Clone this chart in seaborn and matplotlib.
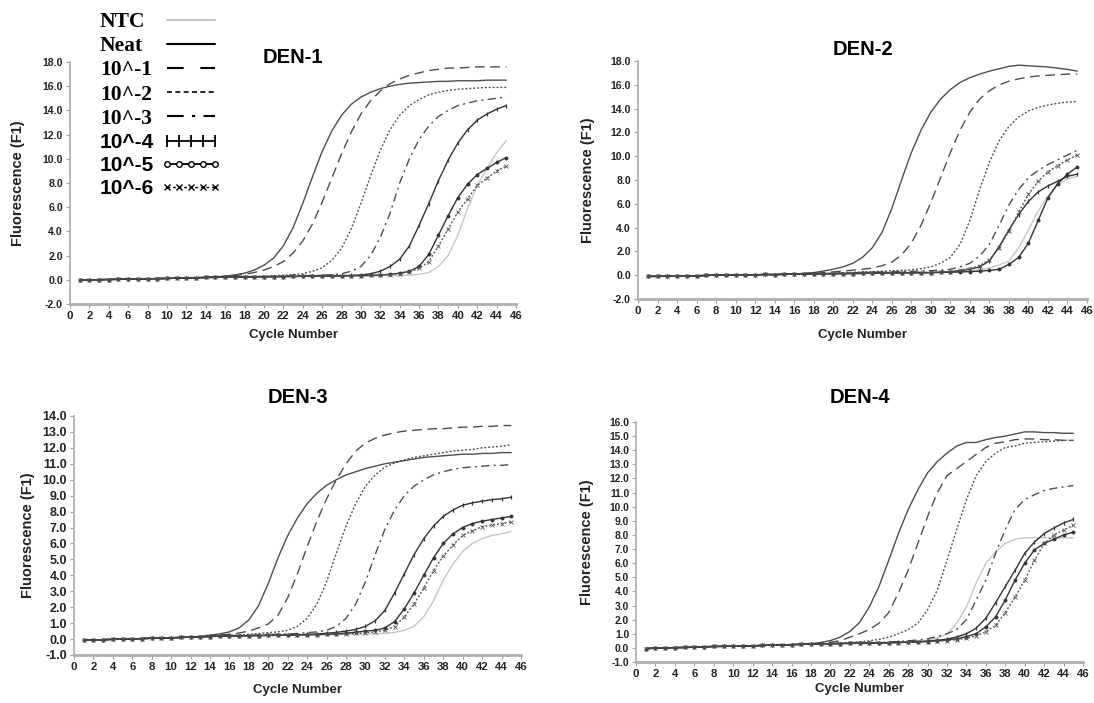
import numpy as np
import pandas as pd
import matplotlib
matplotlib.use("Agg")
import matplotlib.pyplot as plt
from matplotlib.lines import Line2D
from matplotlib.ticker import FormatStrFormatter
import seaborn as sns

# ---------------- data ----------------
cycles = list(range(1, 46))
dilutions = ["NTC", "Neat", "10^-1", "10^-2", "10^-3", "10^-4", "10^-5", "10^-6"]
panel_titles = ["DEN-1", "DEN-2", "DEN-3", "DEN-4"]

den1_ntc = [0.0,0.0,0.01,0.02,0.03,0.05,0.06,0.08,0.09,0.1, 0.11,0.13,0.15,0.17,0.19,0.2,0.21,0.22,0.23,0.24,
            0.25,0.25,0.26,0.27,0.27,0.28,0.28,0.29,0.3,0.3, 0.31,0.32,0.33,0.35,0.38,
            0.45,0.6,1.1,2.0,3.7,5.9,7.8,9.2,10.5,11.5]
den1_neat = [0.0,0.0,0.01,0.03,0.04,0.05,0.07,0.08,0.1,0.11, 0.13,0.15,0.17,0.2,0.24,
             0.3,0.4,0.55,0.8,1.2, 1.8,2.8,4.3,6.3,8.5, 10.6,12.3,13.6,14.5,15.1,
             15.5,15.8,16.0,16.15,16.25, 16.3,16.35,16.4,16.4,16.45, 16.45,16.45,16.5,16.5,16.5]
den1_e1 = [0.0,0.0,0.01,0.02,0.04,0.05,0.07,0.08,0.1,0.11, 0.13,0.15,0.17,0.2,0.23,0.28,0.35,0.45,
           0.6,0.8,1.1,1.5,2.2, 3.2,4.6,6.4,8.4,10.4, 12.2,13.7,14.8,15.6,16.2,
           16.6,16.9,17.1,17.3,17.4, 17.5,17.5,17.55,17.6,17.6, 17.6,17.6]
den1_e2 = [0.0,0.0,0.01,0.02,0.04,0.05,0.07,0.08,0.1,0.11, 0.13,0.15,0.17,0.19,0.21,0.23,0.25,0.27,0.29,0.31,
           0.34,0.37,0.42,0.5, 0.7,1.0,1.6,2.6,4.2, 6.3,8.6,10.7,12.4,13.6,
           14.4,14.9,15.3,15.5,15.65, 15.75,15.8,15.85,15.9,15.9, 15.9]
den1_e3 = [0.0,0.0,0.01,0.02,0.04,0.05,0.07,0.08,0.1,0.11, 0.13,0.15,0.17,0.19,0.21,0.22,0.23,0.25,0.26,0.27,
           0.28,0.3,0.31,0.33,0.35,0.38,0.42,0.5, 0.7,1.1,2.0,3.5,5.5,
           8.0,10.0,11.6,12.7,13.5, 14.0,14.4,14.6,14.8,14.9, 15.0,15.1]
den1_e4 = [0.0,0.0,0.01,0.02,0.04,0.05,0.07,0.08,0.1,0.11, 0.13,0.15,0.17,0.19,0.2,0.21,0.22,0.23,0.24,0.25,
           0.26,0.27,0.28,0.29,0.3,0.31,0.32,0.34,0.36,0.4,
           0.5,0.7,1.1,1.7,2.8, 4.5,6.3,8.2,9.9,11.3, 12.4,13.2,13.7,14.1,14.4]
den1_e5 = [0.0,0.0,0.01,0.02,0.04,0.05,0.07,0.08,0.1,0.11, 0.13,0.15,0.17,0.19,0.2,0.21,0.22,0.23,0.24,0.25,
           0.26,0.27,0.28,0.29,0.3,0.31,0.32,0.33,0.34,0.35, 0.37,0.4,
           0.45,0.55,0.7, 1.1,2.1,3.7,5.3,6.8, 7.9,8.7,9.2,9.7,10.1]
den1_e6 = [0.0,0.0,0.01,0.02,0.04,0.05,0.07,0.08,0.1,0.11, 0.13,0.15,0.17,0.19,0.2,0.21,0.22,0.23,0.24,0.25,
           0.26,0.27,0.28,0.29,0.3,0.31,0.32,0.33,0.34,0.35, 0.37,0.4,0.43,
           0.5,0.65,0.95,1.5,2.8, 4.2,5.6,6.7,7.8,8.4, 9.0,9.4]

den2_ntc = [-0.1,-0.1,-0.08,-0.1,-0.06,-0.05,-0.02,0.0,0.02,0.03, 0.04,0.03,0.06,0.05,0.07,0.08,0.1,0.11,0.12,0.13,
            0.14,0.15,0.16,0.17,0.18,0.19,0.2,0.21,0.22,0.23, 0.25,0.27,0.3,0.35,0.45,0.6,0.85,
            1.2,2.3,3.8,5.4,6.7,7.6,8.1,8.3]
den2_neat = [-0.1,-0.1,-0.08,-0.1,-0.06,-0.05,-0.02,0.0,0.02,0.03, 0.04,0.03,0.06,0.05,0.08,0.1,0.15,0.22,0.35,
             0.5,0.7,1.0,1.5,2.3, 3.6,5.6,8.0,10.3,12.2, 13.7,14.8,15.6,16.2,16.6,
             16.9,17.15,17.35,17.55,17.65, 17.6,17.55,17.5,17.4,17.3, 17.15]
den2_e1 = [-0.1,-0.1,-0.08,-0.1,-0.06,-0.05,-0.02,0.0,0.02,0.03, 0.04,0.03,0.06,0.05,0.08,0.1,0.13,0.17,0.22,0.28,
           0.35,0.42,0.5, 0.6,0.8,1.1,1.7,2.7, 4.2,6.1,8.2,10.3,12.2,
           13.7,14.8,15.5,16.0,16.3, 16.5,16.65,16.75,16.8,16.85, 16.9,16.9]
den2_e2 = [-0.1,-0.1,-0.08,-0.1,-0.06,-0.05,-0.02,0.0,0.02,0.03, 0.04,0.03,0.06,0.05,0.07,0.09,0.11,0.13,0.15,0.18,
           0.21,0.24,0.27,0.3,0.33,0.37,0.41, 0.45,0.55,0.7,1.0,1.5,
           2.6,4.6,7.2,9.5,11.3, 12.5,13.3,13.8,14.1,14.3, 14.45,14.55,14.6]
den2_e3 = [-0.1,-0.1,-0.08,-0.1,-0.06,-0.05,-0.02,0.0,0.02,0.03, 0.04,0.03,0.06,0.05,0.07,0.08,0.1,0.12,0.14,0.16,
           0.18,0.2,0.22,0.24,0.26,0.28,0.3,0.32,0.35,0.38, 0.43,
           0.5,0.7,1.0,1.6,2.6, 4.2,5.9,7.2,8.2,8.8, 9.3,9.7,10.1,10.5]
den2_e4 = [-0.1,-0.1,-0.08,-0.1,-0.06,-0.05,-0.02,0.0,0.02,0.03, 0.04,0.03,0.06,0.05,0.07,0.08,0.1,0.11,0.12,0.13,
           0.13,0.14,0.15,0.16,0.17,0.18,0.19,0.2,0.21,0.22, 0.25,0.3,0.38,0.5,
           0.7,1.2,2.4,3.8,5.1, 6.2,7.0,7.5,7.9,8.3, 8.5]
den2_e5 = [-0.1,-0.1,-0.08,-0.1,-0.06,-0.05,-0.02,0.0,0.02,0.03, 0.04,0.03,0.06,0.05,0.07,0.08,0.1,0.11,0.12,0.13,
           0.13,0.14,0.15,0.16,0.17,0.18,0.19,0.2,0.21,0.22, 0.23,0.25,0.27,0.3,0.34,0.4,
           0.5,0.9,1.5,2.7,4.6, 6.5,7.7,8.5,9.1]
den2_e6 = [-0.1,-0.1,-0.08,-0.1,-0.06,-0.05,-0.02,0.0,0.02,0.03, 0.04,0.03,0.06,0.05,0.07,0.08,0.1,0.11,0.12,0.13,
           0.13,0.14,0.15,0.16,0.17,0.18,0.19,0.2,0.21,0.22, 0.25,0.3,0.4,0.55,
           0.8,1.3,2.3,3.7,5.3, 6.8,7.9,8.7,9.2,9.7, 10.1]

den3_ntc = [-0.05,-0.05,-0.04,-0.02,0.0,0.01,0.03,0.05,0.06,0.08, 0.1,0.12,0.14,0.16,0.18,0.19,0.2,0.21,0.22,0.23,
            0.24,0.25,0.26,0.27,0.27,0.28,0.28,0.29,0.3,0.31, 0.33,0.36,0.42,0.55,
            0.8,1.4,2.4,3.7,4.7, 5.5,6.0,6.3,6.5,6.6, 6.75]
den3_neat = [-0.05,-0.05,-0.04,-0.02,0.0,0.01,0.03,0.05,0.06,0.08, 0.1,0.13,0.17,
             0.25,0.32,0.45,0.7,1.2, 2.1,3.5,5.1,6.5,7.6, 8.5,9.15,9.65,10.0,10.3,
             10.5,10.7,10.85,11.0,11.1, 11.2,11.3,11.4,11.45,11.5, 11.55,11.6,11.6,11.65,11.65, 11.7,11.7]
den3_e1 = [-0.05,-0.05,-0.04,-0.02,0.0,0.01,0.03,0.05,0.06,0.08, 0.1,0.13,0.16,0.2,0.25,0.3,0.38,0.5,
           0.7,0.95,1.5,2.6,4.1, 5.8,7.4,8.8,10.0,11.0, 11.8,12.3,12.6,12.8,12.95,
           13.05,13.1,13.15,13.2,13.2, 13.25,13.3,13.3,13.35,13.35, 13.4,13.4]
den3_e2 = [-0.05,-0.05,-0.04,-0.02,0.0,0.01,0.03,0.05,0.06,0.08, 0.1,0.12,0.14,0.17,0.2,0.23,0.26,0.3,0.34,
           0.4,0.45,0.55,0.8,1.3, 2.2,3.6,5.4,7.1,8.5, 9.6,10.3,10.8,11.05,11.25,
           11.4,11.5,11.6,11.7,11.8, 11.85,11.9,12.0,12.05,12.1, 12.2]
den3_e3 = [-0.05,-0.05,-0.04,-0.02,0.0,0.01,0.03,0.05,0.06,0.08, 0.1,0.12,0.14,0.16,0.18,0.2,0.22,0.24,0.26,0.28,
           0.3,0.32,0.35,0.4, 0.45,0.55,0.8,1.3,2.2, 3.6,5.3,6.9,8.1,9.0,
           9.6,10.0,10.3,10.5,10.65, 10.75,10.8,10.85,10.9,10.9, 10.95]
den3_e4 = [-0.05,-0.05,-0.04,-0.02,0.0,0.01,0.03,0.05,0.06,0.08, 0.1,0.12,0.14,0.16,0.18,0.19,0.2,0.21,0.22,0.23,
           0.24,0.25,0.27,0.29,0.32,0.36,0.42, 0.5,0.6,0.8,1.15,1.8,
           2.9,4.1,5.3,6.3,7.1, 7.7,8.1,8.4,8.55,8.65, 8.75,8.8,8.9]
den3_e5 = [-0.05,-0.05,-0.04,-0.02,0.0,0.01,0.03,0.05,0.06,0.08, 0.1,0.12,0.14,0.16,0.18,0.19,0.2,0.21,0.22,0.23,
           0.24,0.25,0.26,0.27,0.28,0.3,0.33,0.37,0.43, 0.5,0.55,0.7,1.1,1.9,
           2.9,4.0,5.1,6.0,6.6, 7.0,7.25,7.4,7.5,7.6, 7.7]
den3_e6 = [-0.05,-0.05,-0.04,-0.02,0.0,0.01,0.03,0.05,0.06,0.08, 0.1,0.12,0.14,0.16,0.18,0.19,0.2,0.21,0.22,0.23,
           0.24,0.25,0.26,0.27,0.28,0.29,0.3,0.32,0.35,0.39, 0.45,
           0.55,0.77,1.4,2.2,3.2, 4.3,5.2,5.9,6.5,6.8, 7.05,7.15,7.25,7.35]

den4_ntc = [-0.05,-0.02,0.0,0.02,0.03,0.05,0.08,0.1,0.11,0.12, 0.13,0.15,0.17,0.2,0.21,0.23,0.25,0.27,0.28,0.3,
            0.31,0.32,0.33,0.34,0.35,0.37,0.39,0.42,0.46,0.55, 0.7,
            1.0,1.75,2.9,4.6,6.0, 6.8,7.4,7.7,7.8,7.8, 7.8,7.8,7.8,7.8]
den4_neat = [-0.05,-0.02,0.0,0.02,0.03,0.05,0.08,0.1,0.11,0.12, 0.13,0.15,0.17,0.2,0.21,0.23,0.25,0.3,0.38,
             0.52,0.76,1.16,1.8,2.9, 4.35,6.2,8.1,9.8,11.2, 12.4,13.2,13.8,14.3,14.55,
             14.55,14.75,14.9,15.0,15.15, 15.3,15.3,15.25,15.25,15.2, 15.2]
den4_e1 = [-0.05,-0.02,0.0,0.02,0.03,0.05,0.08,0.1,0.11,0.12, 0.13,0.15,0.17,0.2,0.21,0.23,0.25,0.28,0.32,0.4,
           0.5, 0.76,1.0,1.3,1.75,2.5, 3.9,5.5,7.4,9.3,11.0,
           12.2,12.7,13.2,13.7,14.2, 14.5,14.6,14.75,14.8,14.8, 14.75,14.75,14.7,14.7]
den4_e2 = [-0.05,-0.02,0.0,0.02,0.03,0.05,0.08,0.1,0.11,0.12, 0.13,0.15,0.17,0.2,0.21,0.23,0.25,0.27,0.29,0.31,
           0.34,0.38,0.43,0.5,0.6, 0.76,1.0,1.3,1.75,2.7, 4.1,6.2,8.4,10.5,12.2,
           13.2,13.8,14.2,14.3,14.5, 14.55,14.6,14.65,14.7,14.7]
den4_e3 = [-0.05,-0.02,0.0,0.02,0.03,0.05,0.08,0.1,0.11,0.12, 0.13,0.15,0.17,0.2,0.21,0.23,0.25,0.27,0.28,0.3,
           0.31,0.33,0.35,0.37,0.39,0.42,0.45,0.5,0.56,0.65,
           0.8,1.0,1.3,2.0,3.4, 4.8,6.7,8.4,9.8,10.5, 10.85,11.15,11.3,11.4,11.5]
den4_e4 = [-0.05,-0.02,0.0,0.02,0.03,0.05,0.08,0.1,0.11,0.12, 0.13,0.15,0.17,0.2,0.21,0.23,0.25,0.27,0.28,0.3,
           0.31,0.32,0.33,0.34,0.35,0.37,0.39,0.41,0.44,0.48, 0.54,0.62,0.78,
           1.0,1.4,2.1,3.2,4.35, 5.5,6.7,7.5,8.1,8.5, 8.85,9.1]
den4_e5 = [-0.05,-0.02,0.0,0.02,0.03,0.05,0.08,0.1,0.11,0.12, 0.13,0.15,0.17,0.2,0.21,0.23,0.25,0.27,0.28,0.3,
           0.31,0.32,0.33,0.34,0.35,0.36,0.38,0.4,0.42,0.45, 0.5,0.56,0.65,0.8,
           1.0,1.5,2.2,3.4,4.8, 6.0,6.95,7.4,7.7,8.0, 8.2]
den4_e6 = [-0.05,-0.02,0.0,0.02,0.03,0.05,0.08,0.1,0.11,0.12, 0.13,0.15,0.17,0.2,0.21,0.23,0.25,0.27,0.28,0.3,
           0.31,0.32,0.33,0.34,0.35,0.36,0.38,0.4,0.42,0.45, 0.48,0.52,0.58,0.68,0.85,
           1.15,1.6,2.5,3.6,4.8, 6.2,7.4,8.0,8.35,8.7]

series = {
    "DEN-1": [den1_ntc, den1_neat, den1_e1, den1_e2, den1_e3, den1_e4, den1_e5, den1_e6],
    "DEN-2": [den2_ntc, den2_neat, den2_e1, den2_e2, den2_e3, den2_e4, den2_e5, den2_e6],
    "DEN-3": [den3_ntc, den3_neat, den3_e1, den3_e2, den3_e3, den3_e4, den3_e5, den3_e6],
    "DEN-4": [den4_ntc, den4_neat, den4_e1, den4_e2, den4_e3, den4_e4, den4_e5, den4_e6],
}

rows = []
for p in panel_titles:
    for d, vals in zip(dilutions, series[p]):
        assert len(vals) == len(cycles), (p, d, len(vals))
        for c, v in zip(cycles, vals):
            rows.append((p, d, c, v))
df = pd.DataFrame(rows, columns=["panel", "dilution", "cycle", "fluor"])

# ---------------- style ----------------
sns.set_theme(style="white")
plt.rcParams["font.family"] = ["Liberation Sans", "DejaVu Sans"]
plt.rcParams["font.weight"] = "bold"
plt.rcParams["axes.labelweight"] = "bold"

DARK = "#4d4d4d"
line_styles = {
    "NTC":   dict(color="#c6c6c6", linestyle="-", linewidth=1.0),
    "Neat":  dict(color=DARK, linestyle="-", linewidth=1.0),
    "10^-1": dict(color=DARK, linestyle=(0, (7, 4)), linewidth=1.0),
    "10^-2": dict(color=DARK, linestyle=(0, (1.4, 1.4)), linewidth=1.0),
    "10^-3": dict(color=DARK, linestyle=(0, (6, 3, 1.5, 3)), linewidth=1.0),
    "10^-4": dict(color="#333333", linestyle="-", linewidth=1.0, marker="|",
                  markersize=3, markeredgewidth=0.9, markeredgecolor="#333333"),
    "10^-5": dict(color="#333333", linestyle="-", linewidth=1.0, marker="o",
                  markersize=2.2, markeredgewidth=0.6, markeredgecolor="#333333",
                  markerfacecolor="#333333"),
    "10^-6": dict(color="#555555", linestyle=(0, (1.4, 1.4)), linewidth=1.0, marker="x",
                  markersize=2.6, markeredgewidth=0.6, markeredgecolor="#555555"),
}

panel_cfg = {
    "DEN-1": dict(rect=[0.0640, 0.5676, 0.4077, 0.3442], ylim=(-2, 18), ystep=2.0,
                  ysize=7.6, title_y=1.02, ylab_x=-0.1, xpad=6),
    "DEN-2": dict(rect=[0.5832, 0.5747, 0.4104, 0.3385], ylim=(-2, 18), ystep=2.0,
                  ysize=7.6, title_y=1.048, ylab_x=-0.095, xpad=9.5),
    "DEN-3": dict(rect=[0.0676, 0.0683, 0.4086, 0.3400], ylim=(-1, 14), ystep=1.0,
                  ysize=9.0, title_y=1.079, ylab_x=-0.088, xpad=9),
    "DEN-4": dict(rect=[0.5814, 0.0583, 0.4086, 0.3414], ylim=(-1, 16), ystep=1.0,
                  ysize=7.4, title_y=1.102, ylab_x=-0.095, xpad=3),
}

fig = plt.figure(figsize=(10.94, 7.03), dpi=100)
fig.patch.set_facecolor("white")

for p in panel_titles:
    cfg = panel_cfg[p]
    ax = fig.add_axes(cfg["rect"])
    sub = df[df["panel"] == p]
    for d in dilutions:
        s = sub[sub["dilution"] == d]
        sns.lineplot(data=s, x="cycle", y="fluor", ax=ax, estimator=None,
                     errorbar=None, sort=True, legend=False, **line_styles[d])
    ymin, ymax = cfg["ylim"]
    ax.set_xlim(0, 46)
    ax.set_ylim(ymin, ymax)
    ax.set_xticks(np.arange(0, 47, 2))
    ax.set_yticks(np.arange(ymin, ymax + 0.001, cfg["ystep"]))
    ax.yaxis.set_major_formatter(FormatStrFormatter("%.1f"))
    for side in ("top", "right"):
        ax.spines[side].set_visible(False)
    ax.spines["left"].set_color("#b0b0b0")
    ax.spines["left"].set_linewidth(1.3)
    ax.spines["bottom"].set_color("#b0b0b0")
    ax.spines["bottom"].set_linewidth(2.0)
    ax.tick_params(axis="both", direction="out", length=3, width=0.8,
                   color="#a0a0a0", labelcolor="#222222", pad=2)
    ax.tick_params(axis="x", labelsize=8.2, bottom=True)
    ax.tick_params(axis="y", labelsize=cfg["ysize"], left=True)
    for lbl in ax.get_xticklabels() + ax.get_yticklabels():
        lbl.set_fontweight("bold")
    ax.set_xlabel("Cycle Number", fontsize=9.5, fontweight="bold",
                  color="#222222", labelpad=cfg["xpad"])
    ax.set_ylabel("Fluorescence (F1)", fontsize=10.5, fontweight="bold",
                  color="#222222")
    ax.yaxis.set_label_coords(cfg["ylab_x"], 0.5)
    ax.text(0.5, cfg["title_y"], p, transform=ax.transAxes, ha="center",
            va="center", fontsize=14.5, fontweight="bold", color="black")

# ---------------- legend ----------------
legend_styles = {
    "NTC":   dict(color="#c6c6c6", linestyle="-", linewidth=1.5),
    "Neat":  dict(color="black", linestyle="-", linewidth=1.5),
    "10^-1": dict(color="black", linestyle=(0, (8, 8)), linewidth=1.5),
    "10^-2": dict(color="black", linestyle=(0, (3, 2)), linewidth=1.2),
    "10^-3": dict(color="black", linestyle=(0, (8, 4, 1.5, 4)), linewidth=1.5),
    "10^-4": dict(color="black", linestyle="-", linewidth=1.3, marker="|",
                  markersize=8, markeredgewidth=1.3, markeredgecolor="black"),
    "10^-5": dict(color="black", linestyle="-", linewidth=1.3, marker="o",
                  markersize=4, markeredgewidth=1.0, markeredgecolor="black",
                  markerfacecolor="white"),
    "10^-6": dict(color="black", linestyle=(0, (2, 2)), linewidth=1.0, marker="x",
                  markersize=5, markeredgewidth=1.0, markeredgecolor="black"),
}
handles = [Line2D([], [], **legend_styles[d]) for d in dilutions]
leg = fig.legend(handles, dilutions, loc="upper left",
                 bbox_to_anchor=(100 / 1094, 1 - 12 / 703), frameon=False,
                 markerfirst=False, numpoints=5, handlelength=2.9,
                 handletextpad=0.3, labelspacing=0.2, fontsize=15,
                 borderaxespad=0, borderpad=0)
serif_labels = {"NTC", "Neat", "10^-1", "10^-2", "10^-3"}
for t, d in zip(leg.get_texts(), dilutions):
    t.set_fontweight("bold")
    t.set_color("black")
    if d in serif_labels:
        t.set_fontfamily(["Liberation Serif", "DejaVu Serif"])
        t.set_fontsize(15.5)
    else:
        t.set_fontfamily(["Liberation Sans", "DejaVu Sans"])
        t.set_fontsize(15)

# left-align the legend texts while keeping the sample lines aligned
try:
    fig.canvas.draw()
    r = fig.canvas.get_renderer()
    col = leg._legend_handle_box.get_children()[0]
    col.align = "left"
    items = col.get_children()
    widths = [t.get_window_extent(r).width for t in leg.get_texts()]
    wmax = max(widths)
    for item, w in zip(items, widths):
        item.sep = item.sep + (wmax - w) * 72.0 / fig.dpi
except Exception:
    pass

fig.savefig("out.png", dpi=100, facecolor="white")
